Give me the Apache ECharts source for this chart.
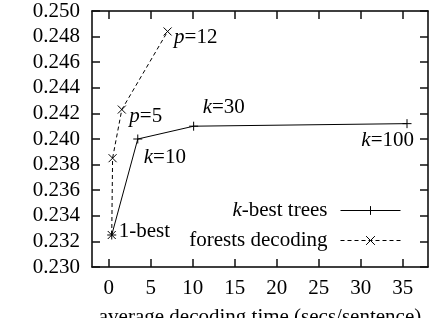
<!DOCTYPE html>
<html><head><meta charset="utf-8">
<script src="https://cdn.jsdelivr.net/npm/echarts@6/dist/echarts.min.js"></script>
<style>html,body{margin:0;padding:0;background:#fff}#c{width:432px;height:318px}</style>
</head><body><div id="c"></div>
<script>
// ---- data ----
const kbestTime = [0.35, 3.45, 10.1, 35.5];
const kbestScore = [0.2325, 0.2400, 0.2410, 0.2412];
const kbestLabels = ['1-best', 'k=10', 'k=30', 'k=100'];
const forestTime = [0.35, 0.45, 1.55, 7.0];
const forestScore = [0.2325, 0.2385, 0.2423, 0.2484];
const forestLabels = ['', '', 'p=5', 'p=12'];
const xTicks = [0, 5, 10, 15, 20, 25, 30, 35];
const yMin = 0.230, yMax = 0.250, yStep = 0.002;
const seriesNames = ['k-best trees', 'forests decoding'];
const xName = 'average decoding time (secs/sentence)';

// ---- styling ----
const FONT = 'Liberation Serif';
const FS = 21;
const kbestPlace = [
  {position: 'right', offset: [2, -4]},
  {position: 'right', offset: [1, 18]},
  {position: 'right', offset: [4, -19]},
  {position: 'left', offset: [12, 17]}
];
const forestPlace = [null, null,
  {position: 'right', offset: [3, 7]},
  {position: 'right', offset: [2, 6]}
];
const rich = {i: {fontStyle: 'italic', fontFamily: FONT, fontSize: FS, color: '#000'}};
const fmtLab = s => s.replace(/^([kp])=/, '{i|$1}=');

function build(xs, ys, labels, place) {
  return xs.map((x, i) => {
    const d = {value: [x, ys[i]]};
    if (labels[i]) {
      d.label = Object.assign({show: true, distance: 0, formatter: fmtLab(labels[i])}, place[i]);
    }
    return d;
  });
}
const plusSym = 'path://M5,0L5,10M0,5L10,5';
const crossSym = 'path://M0,0L10,10M0,10L10,0';
const labelBase = {color: '#000', fontFamily: FONT, fontSize: FS, rich: rich};

const chart = echarts.init(document.getElementById('c'), null, {renderer: 'canvas'});
function mkAxisX(pos, showLabel) {
  return {
    type: 'value', min: -2, max: 38, position: pos,
    axisLine: {show: true, onZero: false, lineStyle: {color: '#000', width: 1.5}},
    axisTick: {show: true, inside: true, length: 8, customValues: xTicks, lineStyle: {color: '#111', width: 1.5}},
    axisLabel: {show: true, customValues: xTicks, color: '#000', fontFamily: FONT, fontSize: FS, margin: 11,
      formatter: showLabel ? (v => String(v)) : (() => '')},
    splitLine: {show: false}
  };
}
function mkAxisY(pos, showLabel) {
  return {
    type: 'value', min: yMin, max: yMax, interval: yStep, position: pos,
    axisLine: {show: true, onZero: false, lineStyle: {color: '#000', width: 1.5}},
    axisTick: {show: true, inside: true, length: 8, lineStyle: {color: '#111', width: 1.5}},
    axisLabel: {show: showLabel, color: '#000', fontFamily: FONT, fontSize: FS, margin: 12,
      formatter: v => v.toFixed(3)},
    splitLine: {show: false}
  };
}
const xBottom = mkAxisX('bottom', true);
Object.assign(xBottom, {name: xName, nameLocation: 'middle', nameGap: 40,
  nameTextStyle: {color: '#000', fontFamily: FONT, fontSize: FS}});

chart.setOption({
  animation: false,
  backgroundColor: '#fff',
  grid: {left: 92, right: 4, top: 11, bottom: 51, containLabel: false, outerBoundsMode: 'none'},
  xAxis: [xBottom, mkAxisX('top', false)],
  yAxis: [mkAxisY('left', true), mkAxisY('right', false)],
  legend: {
    orient: 'vertical', right: 31, top: 200, padding: 0, itemGap: 9,
    align: 'right', itemWidth: 60, itemHeight: 11,
    data: seriesNames,
    formatter: n => n.replace(/^k-/, '{i|k}-'),
    itemStyle: {borderWidth: 1},
    lineStyle: {width: 1},
    textStyle: {color: '#000', fontFamily: FONT, fontSize: FS, rich: rich, padding: [0, 8, 0, 0]}
  },
  series: [
    {
      name: seriesNames[0], type: 'line', xAxisIndex: 0, yAxisIndex: 0,
      data: build(kbestTime, kbestScore, kbestLabels, kbestPlace),
      symbol: plusSym, symbolSize: 9,
      lineStyle: {color: '#000', width: 1},
      itemStyle: {color: '#000', borderColor: '#000', borderWidth: 1},
      label: labelBase, z: 3
    },
    {
      name: seriesNames[1], type: 'line', xAxisIndex: 0, yAxisIndex: 0,
      data: build(forestTime, forestScore, forestLabels, forestPlace),
      symbol: crossSym, symbolSize: 8,
      lineStyle: {color: '#000', width: 1, type: [4, 3]},
      itemStyle: {color: '#000', borderColor: '#000', borderWidth: 1},
      label: labelBase, z: 2
    },
    {
      // invisible helper so the mirrored top/right axes are laid out and drawn
      name: 'mirror', type: 'line', xAxisIndex: 1, yAxisIndex: 1,
      data: kbestTime.map((x, i) => [x, kbestScore[i]]),
      symbol: 'none', silent: true, lineStyle: {opacity: 0}, z: 0
    }
  ]
});
</script></body></html>
